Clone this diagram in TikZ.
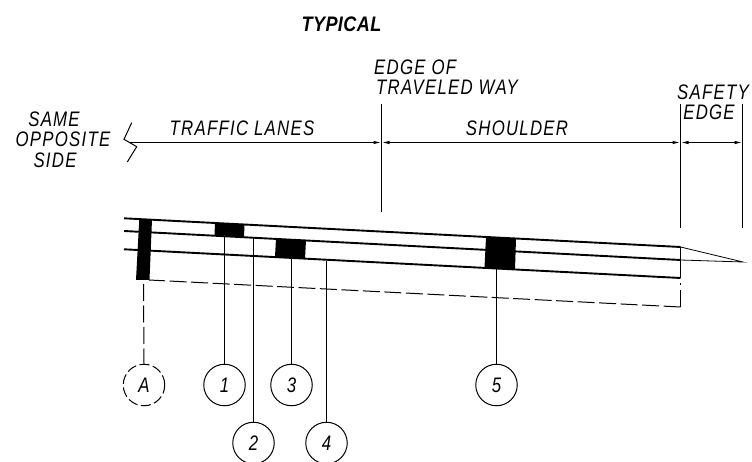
\documentclass[tikz,border=0pt]{standalone}
\usepackage{fontspec}
\setmainfont{Liberation Sans}
\newfontfamily\cadfont[FakeStretch=0.8,LetterSpace=6]{Liberation Sans}
\newfontfamily\cadtitle[FakeStretch=0.86,LetterSpace=2]{Liberation Sans}
\usetikzlibrary{arrows.meta}
\tikzset{
  x=1pt,y=-1pt,
  road/.style={line width=1.9pt,black},
  thinline/.style={line width=1.2pt,black},
  dashline/.style={line width=1pt,black,dash pattern=on 17pt off 4.5pt},
  blk/.style={fill=black,draw=none},
  callout/.style={circle,draw=black,line width=1pt,minimum size=41.5pt,inner sep=0pt,font=\cadfont\fontsize{21}{21}\selectfont\itshape},
  calloutdash/.style={callout,dash pattern=on 10pt off 3.5pt},
  lbl/.style={inner sep=0pt,font=\cadfont\fontsize{21}{21}\selectfont\itshape,text=black},
  dim/.style={line width=1.2pt,black,{Latex[length=8pt,width=3.5pt]}-{Latex[length=8pt,width=3.5pt]}},
  dimr/.style={line width=1.2pt,black,-{Latex[length=8pt,width=3.5pt]}}
}
\begin{document}
\begin{tikzpicture}
\useasboundingbox (0,0) rectangle (752,462);
\clip (0,0) rectangle (752,462);
% named points
\coordinate (tl) at (124,218.3); \coordinate (tr) at (680.5,247);
\coordinate (ml) at (124,231); \coordinate (mr) at (680.5,260);
\coordinate (bl) at (124,249.3); \coordinate (br) at (680.5,278);
\coordinate (dl) at (149,280); \coordinate (dr) at (680.5,307);
\coordinate (brd) at (680.5,283);
\coordinate (tip) at (743,262);
\coordinate (zz) at (130,142.5);
\coordinate (e1a) at (381.5,104); \coordinate (e1b) at (381.5,212);
\coordinate (e2a) at (680.5,104); \coordinate (e2b) at (680.5,228);
\coordinate (e3a) at (742.5,104); \coordinate (e3b) at (742.5,228);
\coordinate (d1) at (381.5,142.5); \coordinate (d2) at (680.5,142.5); \coordinate (d3) at (742.5,142.5);
% road layers
\draw[road] (tl) -- (tr);
\draw[road] (ml) -- (mr);
\draw[road] (bl) -- (br);
\draw[road] (tr) -- (br);
\draw[dashline] (dr) -- (dl);
\draw[dashline] (dr) -- (brd);
\draw[line width=0.8pt] (tr) -- (tip) -- (mr);
% black patches
\fill[blk] (139.3,219) -- (152,219.5) -- (149.5,280) -- (136,280) -- cycle;
\fill[blk] (215,223.3) -- (244.5,225) -- (244,237) -- (214.5,235) -- cycle;
\fill[blk] (276,238.5) -- (306,240.5) -- (305,259) -- (275,257) -- cycle;
\fill[blk] (486,237) -- (516,239) -- (515,270) -- (484.5,268) -- cycle;
% callouts
\node[calloutdash] (A) at (144,385) {A};
\node[callout] (n1) at (224.5,385) {1};
\node[callout] (n3) at (291.5,385) {3};
\node[callout] (n5) at (496.5,385) {5};
\node[callout] (n2) at (253.5,443) {2};
\node[callout] (n4) at (326.5,443) {4};
\coordinate (pA) at (143.5,284);
\coordinate (p1) at (224.5,236);
\coordinate (p2) at (253.5,237);
\coordinate (p3) at (291.5,258);
\coordinate (p4) at (326.5,261);
\coordinate (p5) at (496.5,269);
\draw[dashline] (pA) -- (A.north);
\draw[thinline] (p1) -- (n1.north);
\draw[thinline] (p2) -- (n2.north);
\draw[thinline] (p3) -- (n3.north);
\draw[thinline] (p4) -- (n4.north);
\draw[thinline] (p5) -- (n5.north);
% dimensions
\draw[thinline] (e1a) -- (e1b);
\draw[thinline] (e2a) -- (e2b);
\draw[thinline] (e3a) -- (e3b);
\draw[line width=1pt] (131.7,122.7) -- (124,139.3) -- (136.7,146.7) -- (127.3,162);
\draw[dimr] (zz) -- (d1);
\draw[dim] (d1) -- (d2);
\draw[dim] (d2) -- (d3);
% labels
\node[lbl,font=\cadtitle\fontsize{21}{21}\selectfont\bfseries\itshape] (title) at (341.5,24) {TYPICAL};
\node[lbl] (s1) at (54,119) {SAME};
\node[lbl] (s2) at (63,139) {OPPOSITE};
\node[lbl] (s3) at (55,160) {SIDE};
\node[lbl] (tlanes) at (242,128) {TRAFFIC LANES};
\node[lbl,anchor=west] (eo) at (374,67) {EDGE OF};
\node[lbl,anchor=west] (tw) at (376,87) {TRAVELED WAY};
\node[lbl] (sh) at (517,128) {SHOULDER};
\node[lbl] (se1) at (713,92) {SAFETY};
\node[lbl] (se2) at (709,112) {EDGE};
\end{tikzpicture}
\end{document}
